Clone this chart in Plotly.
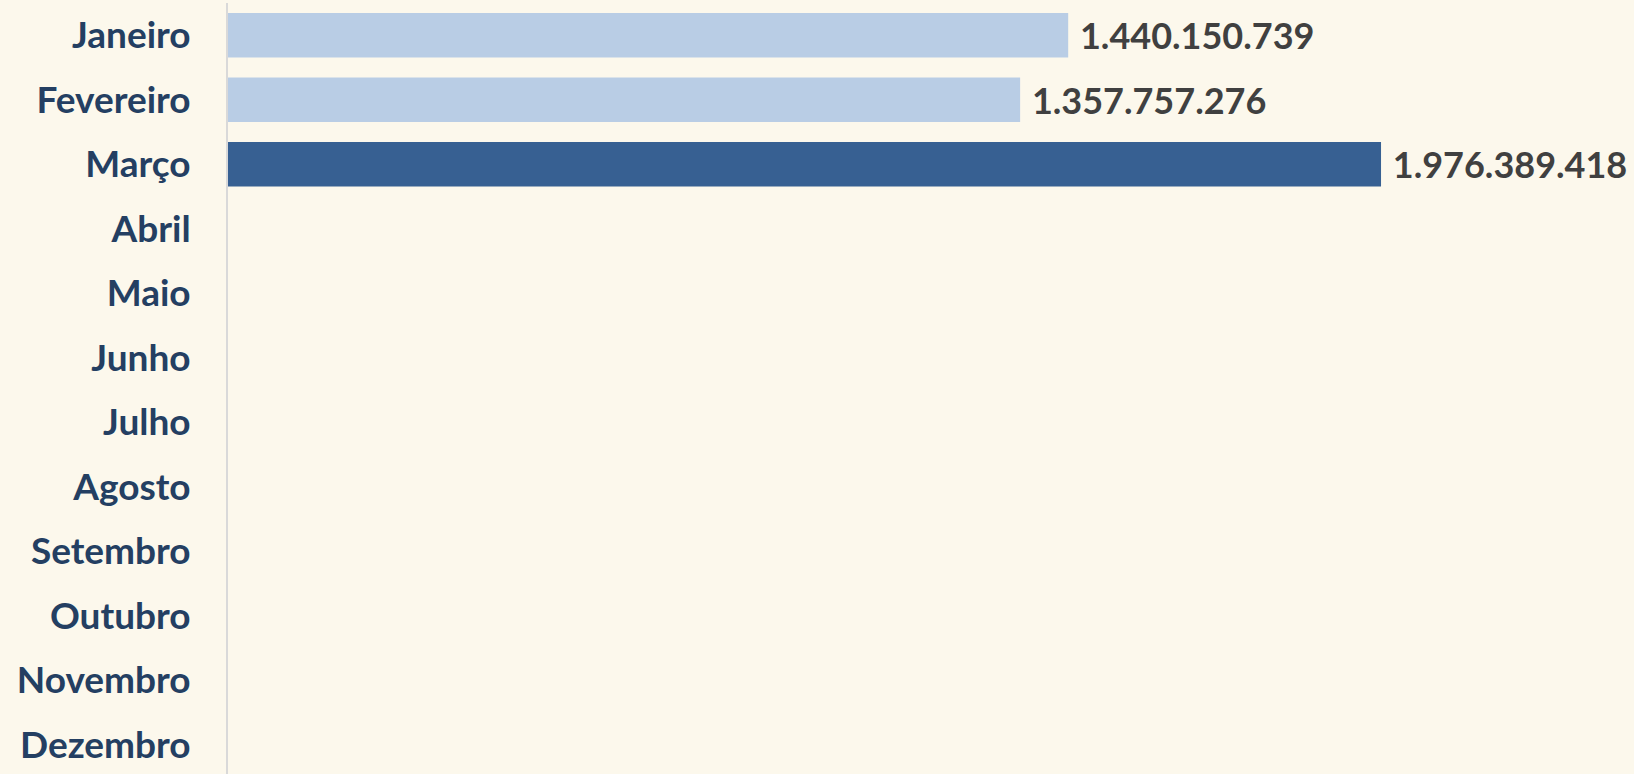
import plotly.graph_objects as go

months = ["Janeiro", "Fevereiro", "Março", "Abril", "Maio", "Junho", "Julho",
          "Agosto", "Setembro", "Outubro", "Novembro", "Dezembro"]
values = [1440150739, 1357757276, 1976389418, None, None, None, None,
          None, None, None, None, None]
bar_colors = ["#B9CDE5", "#B9CDE5", "#376092"] + ["#B9CDE5"] * 9

fig = go.Figure(go.Bar(
    y=months,
    x=values,
    orientation="h",
    marker=dict(color=bar_colors, line=dict(width=0)),
    texttemplate="\u00a0%{x:,.0f}",
    textposition="outside",
    textfont=dict(family="Lato", size=36, color="#404040", weight="bold"),
    constraintext="none",
    cliponaxis=False,
    hoverinfo="skip",
))

fig.update_layout(
    width=1634, height=774,
    margin=dict(l=228, r=0, t=3, b=0),
    paper_bgcolor="#FCF8EC",
    plot_bgcolor="#FCF8EC",
    separators=",.",
    bargap=0.31,
    showlegend=False,
    xaxis=dict(range=[0, 2.41e9], visible=False, showgrid=False, zeroline=False),
    yaxis=dict(
        categoryorder="array", categoryarray=months,
        range=[11.45, -0.5],
        showgrid=False, zeroline=False,
        showline=True, linecolor="#D9D9D9", linewidth=2,
        ticks="", ticklabelstandoff=28,
        tickfont=dict(family="Lato", size=37, color="#243F62", weight="bold"),
    ),
)

fig.write_html(
    "out.html",
    config={"displayModeBar": False},
    post_script="document.body.style.margin='0';document.body.style.overflow='hidden';document.body.style.background='#FCF8EC';",
)
